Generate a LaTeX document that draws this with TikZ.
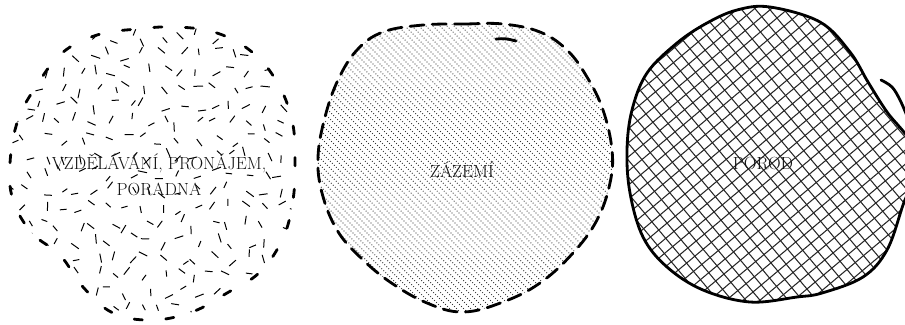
\documentclass[tikz,border=0pt]{standalone}
\usepackage{fontspec}
\begin{document}
\begin{tikzpicture}[x=0.03cm,y=-0.03cm,
  outl/.style={line width=2.4pt, line cap=round, black},
  lbl/.style={font=\fontsize{15}{22}\selectfont, text=black!92, align=center, inner sep=0pt},
  texd/.style={line width=0.85pt, black},
  hatchl/.style={line width=0.75pt, black!80, dash pattern=on 0.75pt off 1.65pt},
  gridl/.style={line width=0.9pt, black!85}]
\useasboundingbox (0,0) rectangle (905,324);
\clip (0,0) rectangle (905,324);
\newcommand\blobA{plot[smooth cycle,tension=0.65] coordinates {(177,27) (217,33) (252,52) (277,82) (292,120) (295,160) (293,200) (283,238) (260,272) (227,293) (192,312) (152,320) (113,313) (83,287) (60,255) (32,233) (13,200) (10,163) (18,120) (37,85) (62,53) (97,35) (137,29)}}
\newcommand\blobB{plot[smooth cycle,tension=0.65] coordinates {(423,25) (465,24) (503,24) (540,32) (567,50) (587,77) (603,110) (612,150) (610,183) (597,220) (573,253) (540,283) (503,302) (463,312) (427,303) (390,282) (360,257) (337,230) (322,193) (318,157) (325,117) (338,80) (357,50) (383,32)}}
\newcommand\blobC{plot[smooth cycle,tension=0.6] coordinates {(770,7) (820,22) (850,52) (868,82) (887,112) (912,145) (912,180) (903,205) (887,250) (863,277) (822,293) (797,297) (750,302) (703,290) (667,267) (643,237) (630,193) (627,150) (632,110) (647,73) (677,43) (707,23) (737,10)}}
% shape 1: random dash texture
\begin{scope}
\clip \blobA;
\pgfmathsetseed{4217}
\foreach \i in {0,...,17}{\foreach \j in {0,...,18}{
  \pgfmathsetmacro\px{10+\i*17+rand*6}
  \pgfmathsetmacro\py{20+\j*17+rand*6}
  \pgfmathsetmacro\an{rnd*180}
  \pgfmathsetmacro\ln{3+rnd*1.8}
  \pgfmathsetmacro\lnn{2*\ln}
  \pgfmathsetmacro\anb{\an+180}
  \draw[texd] (\px,\py) ++(\an:\ln) -- ++(\anb:\lnn);
}}
\end{scope}
\draw[outl, dash pattern=on 7pt off 20pt] \blobA;
\node[lbl] (t1) at (159,175) {VZDĚLÁVÁNÍ, PRONÁJEM,\\PORADNA};
% shape 2: dotted hatch
\begin{scope}
\clip \blobB;
\foreach \c in {-336,-329,...,336}{
  \pgfmathsetmacro\xa{465+\c-170}
  \draw[hatchl] (\xa,0) -- ++(340,340);
}
\end{scope}
\draw[outl, dash pattern=on 12pt off 7pt] \blobB;
\draw[outl] (496,39) .. controls (506,38.5) .. (516,41);
\node[lbl] (t2) at (462,170) {ZÁZEMÍ};
% shape 3: crosshatch grid
\begin{scope}
\clip \blobC;
\begin{scope}[rotate around={40:(765,155)}]
\foreach \k in {-22,...,22}{
  \pgfmathsetmacro\g{155+\k*10.8}
  \pgfmathsetmacro\h{765+\k*10.8}
  \draw[gridl] (540,\g) -- (990,\g);
  \draw[gridl] (\h,-70) -- (\h,380);
}
\end{scope}
\end{scope}
\draw[outl] \blobC;
\draw[outl] plot[smooth,tension=0.6] coordinates {(881,80) (892,87) (900,100) (907,116)};
\node[lbl] (t3) at (763,163) {POROD};
\end{tikzpicture}
\end{document}
